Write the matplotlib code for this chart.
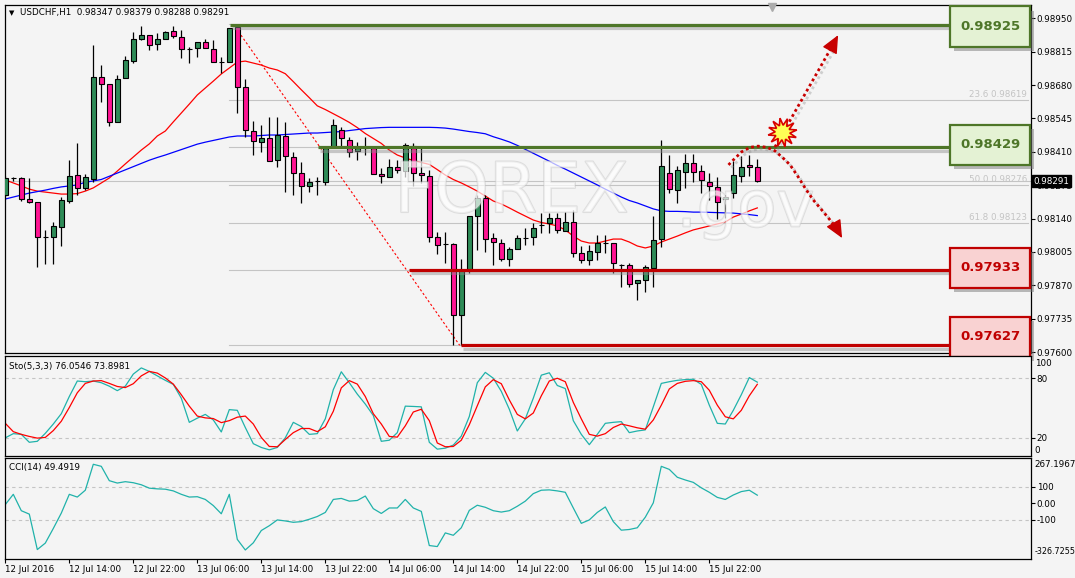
import numpy as np
import matplotlib.pyplot as plt
import matplotlib.patheffects as pe
from matplotlib.patches import Rectangle
from matplotlib.transforms import blended_transform_factory as blend

symbol = "USDCHF,H1"

# hourly bars, prices in points (1e-5)
open_pts = [98235, 98304, 98304, 98219, 98207, 98065, 98065, 98106, 98211, 98316,
            98264, 98300, 98713, 98684, 98531, 98709, 98777, 98866, 98882, 98846,
            98866, 98899, 98874, 98826, 98830, 98854, 98826, 98773, 98773, 98915,
            98672, 98494, 98450, 98466, 98377, 98474, 98389, 98324, 98272, 98292,
            98288, 98429, 98498, 98458, 98413, 98425, 98425, 98320, 98308, 98349,
            98332, 98433, 98324, 98312, 98065, 98037, 98037, 97750, 97932, 98150,
            98223, 98061, 98041, 97976, 98017, 98061, 98065, 98114, 98122, 98142,
            98090, 98126, 98001, 97972, 98005, 98041, 98041, 97952, 97952, 97879,
            97891, 97940, 98057, 98324, 98255, 98328, 98365, 98332, 98288, 98268,
            98219, 98243, 98312, 98357, 98347]
high_pts = [98312, 98308, 98308, 98304, 98207, 98094, 98126, 98227, 98377, 98446,
            98320, 98842, 98761, 98684, 98721, 98797, 98895, 98921, 98882, 98891,
            98899, 98921, 98903, 98834, 98854, 98866, 98862, 98793, 98911, 98926,
            98704, 98535, 98518, 98551, 98551, 98531, 98409, 98369, 98304, 98308,
            98425, 98543, 98510, 98470, 98450, 98470, 98425, 98344, 98381, 98377,
            98446, 98446, 98429, 98336, 98086, 98086, 98041, 97976, 98150, 98235,
            98235, 98082, 98057, 98025, 98073, 98102, 98122, 98162, 98162, 98162,
            98166, 98175, 98029, 98033, 98073, 98073, 98041, 97956, 97960, 97891,
            97952, 98150, 98458, 98397, 98353, 98401, 98401, 98357, 98324, 98308,
            98235, 98373, 98393, 98397, 98379]
low_pts = [98227, 98292, 98211, 98203, 97944, 97956, 97956, 98029, 98203, 98235,
           98255, 98288, 98611, 98514, 98531, 98709, 98769, 98862, 98822, 98822,
           98866, 98870, 98789, 98769, 98793, 98830, 98773, 98729, 98773, 98567,
           98470, 98397, 98409, 98373, 98349, 98247, 98235, 98203, 98247, 98235,
           98276, 98429, 98429, 98389, 98377, 98397, 98320, 98284, 98308, 98324,
           98308, 98272, 98284, 98045, 97997, 97960, 97629, 97627, 97920, 98013,
           98005, 97952, 97968, 97948, 98017, 98033, 98033, 98082, 98082, 98082,
           98090, 97984, 97960, 97952, 97972, 98001, 97920, 97863, 97863, 97811,
           97843, 97863, 98025, 98243, 98203, 98264, 98288, 98243, 98215, 98138,
           98142, 98223, 98288, 98312, 98288]
close_pts = [98304, 98303, 98219, 98207, 98065, 98066, 98110, 98215, 98312, 98264,
             98308, 98713, 98684, 98531, 98704, 98781, 98866, 98882, 98842, 98866,
             98895, 98878, 98826, 98825, 98854, 98830, 98773, 98772, 98911, 98672,
             98498, 98454, 98466, 98373, 98478, 98393, 98324, 98272, 98288, 98291,
             98425, 98518, 98466, 98409, 98429, 98424, 98320, 98312, 98349, 98336,
             98437, 98324, 98316, 98065, 98033, 98036, 97750, 97932, 98150, 98223,
             98057, 98045, 97976, 98017, 98061, 98060, 98102, 98113, 98142, 98094,
             98126, 98001, 97972, 98009, 98041, 98040, 97960, 97951, 97875, 97891,
             97944, 98053, 98353, 98259, 98336, 98365, 98328, 98296, 98272, 98207,
             98227, 98316, 98349, 98349, 98291]

ma_red_pts = [98296, 98284, 98272, 98259, 98251, 98247, 98243, 98239, 98239, 98241,
              98251, 98264, 98284, 98304, 98332, 98361, 98389, 98417, 98442, 98474,
              98494, 98531, 98567, 98603, 98640, 98668, 98696, 98725, 98749, 98773,
              98777, 98769, 98761, 98749, 98741, 98726, 98694, 98661, 98629, 98596,
              98581, 98564, 98547, 98529, 98508, 98484, 98464, 98444, 98417, 98397,
              98385, 98375, 98367, 98359, 98338, 98316, 98298, 98284, 98268, 98251,
              98231, 98211, 98199, 98183, 98166, 98150, 98134, 98124, 98118, 98110,
              98094, 98069, 98049, 98041, 98041, 98049, 98057, 98057, 98045, 98029,
              98021, 98029, 98045, 98057, 98069, 98082, 98094, 98102, 98110, 98118,
              98126, 98146, 98158, 98171, 98183]
ma_blue_pts = [98219, 98227, 98235, 98243, 98249, 98255, 98262, 98268, 98272, 98276,
               98287, 98292, 98298, 98311, 98324, 98337, 98350, 98363, 98376, 98387,
               98397, 98408, 98419, 98430, 98441, 98449, 98456, 98463, 98470, 98474,
               98474, 98474, 98476, 98478, 98478, 98480, 98482, 98484, 98486, 98486,
               98488, 98490, 98492, 98496, 98500, 98504, 98506, 98508, 98509, 98509,
               98509, 98509, 98509, 98509, 98508, 98506, 98502, 98497, 98492, 98488,
               98483, 98471, 98461, 98450, 98436, 98420, 98404, 98388, 98372, 98355,
               98340, 98324, 98308, 98292, 98276, 98259, 98243, 98227, 98213, 98203,
               98191, 98179, 98171, 98169, 98169, 98168, 98166, 98166, 98165, 98164,
               98163, 98162, 98159, 98156, 98152]

sto_main = [20.0, 24.2, 23.5, 15.5, 16.5, 24.5, 33.9, 44.3, 61.6, 77.2,
            76.5, 77.2, 75.5, 72.0, 67.5, 72.0, 84.2, 90.4, 86.9, 82.4,
            77.9, 73.8, 59.9, 35.6, 39.8, 43.6, 38.0, 25.9, 48.4, 47.7,
            30.4, 14.1, 10.3, 7.9, 10.3, 20.0, 35.6, 31.4, 23.5, 24.2,
            39.1, 68.5, 86.5, 75.5, 64.0, 54.0, 42.5, 16.5, 17.6, 25.2,
            51.9, 51.6, 51.2, 15.5, 8.6, 9.6, 12.7, 21.7, 41.5, 75.5,
            85.9, 80.0, 66.8, 48.8, 26.9, 39.1, 59.9, 83.1, 85.5, 72.7,
            69.6, 37.3, 23.5, 13.1, 23.5, 34.6, 35.6, 36.3, 25.2, 26.9,
            28.0, 51.2, 74.8, 76.5, 77.9, 78.6, 79.0, 73.8, 52.9, 34.6,
            33.9, 47.7, 63.4, 80.7, 76.0546]
sto_signal = [34.6, 26.2, 23.5, 21.4, 19.7, 20.4, 27.3, 36.7, 50.5, 65.4,
              74.8, 77.2, 77.6, 74.8, 71.7, 70.6, 74.5, 82.4, 86.9, 85.2,
              80.3, 74.1, 63.4, 51.9, 41.9, 40.1, 39.4, 35.3, 37.3, 40.8,
              41.9, 33.9, 20.4, 11.3, 11.0, 18.3, 25.2, 29.4, 29.4, 26.2,
              31.1, 46.7, 70.3, 77.6, 74.1, 61.6, 44.3, 33.9, 21.4, 20.7,
              32.1, 46.0, 48.8, 37.3, 14.8, 11.0, 11.3, 17.6, 33.2, 52.3,
              71.3, 78.6, 74.5, 58.2, 43.6, 39.1, 45.0, 62.3, 77.2, 80.0,
              76.5, 55.7, 39.1, 23.5, 21.7, 24.2, 30.4, 33.9, 32.1, 30.1,
              28.7, 38.0, 52.9, 69.2, 74.8, 76.9, 77.6, 76.5, 67.9, 52.9,
              41.2, 39.1, 47.7, 62.3, 73.8981]
cci_vals = [-7.2, 54.6, -44.3, -65.0, -279.0, -240.0, -151.6, -58.8, 54.6, 38.1,
            79.4, 236.0, 223.7, 137.0, 122.7, 131.0, 124.7, 112.4, 91.8, 87.6,
            85.6, 75.3, 54.6, 38.1, 40.2, 23.7, -13.4, -62.9, 54.6, -217.5,
            -281.5, -238.2, -164.0, -135.0, -100.0, -106.2, -114.4, -110.3, -95.9, -79.4,
            -54.7, 23.7, 29.9, 13.4, 17.5, 44.3, -32.0, -60.8, -27.8, -27.8,
            23.7, -27.8, -48.5, -254.7, -260.9, -178.4, -192.8, -147.4, -42.3, -11.3,
            -23.7, -44.3, -52.6, -44.3, -17.5, 13.4, 58.8, 79.4, 81.4, 75.3,
            67.0, -27.8, -120.6, -100.0, -54.7, -21.7, -110.3, -161.9, -157.8, -147.4,
            -83.5, 3.1, 223.7, 205.2, 157.7, 141.2, 126.8, 93.8, 67.0, 36.1,
            23.7, 50.5, 71.1, 79.4, 49.4919]

time_labels = ['12 Jul 2016', '12 Jul 14:00', '12 Jul 22:00', '13 Jul 06:00',
               '13 Jul 14:00', '13 Jul 22:00', '14 Jul 06:00', '14 Jul 14:00',
               '14 Jul 22:00', '15 Jul 06:00', '15 Jul 14:00', '15 Jul 22:00']
time_label_bars = [0, 8, 16, 24, 32, 40, 48, 56, 64, 72, 80, 88]

# drawn levels (resistance green, support red) and the bar where each line starts
key_levels = [0.98925, 0.98429, 0.97933, 0.97627]
key_kinds = ['res', 'res', 'sup', 'sup']
key_start = [28.1, 39.1, 50.5, 57.0]
box_centers = [0.98917, 0.98439, 0.97940, 0.97661]

fib_high, fib_low = 0.98926, 0.97627
fib_pcts = [0.0, 23.6, 38.2, 50.0, 61.8, 76.4, 100.0]
fib_labelled = [23.6, 50.0, 61.8]   # the other labels sit under the level boxes

# hand drawn scenario arrows (bar, price)
up_path = [(96.2, 0.98429), (103.3, 0.98834)]
up_tip = (104.1, 0.98882)
down_path = [(90.4, 0.98357), (91.0, 0.98377), (92.05, 0.98410), (93.1, 0.98428),
             (94.1, 0.98433), (95.2, 0.98428), (96.2, 0.98414), (97.25, 0.98384),
             (98.1, 0.98357), (99.1, 0.98309), (100.0, 0.98262), (101.0, 0.98215),
             (102.05, 0.98175), (103.1, 0.98134), (103.9, 0.98101)]
down_tip = (104.6, 0.98061)
burst = (97.05, 0.98491)

opens = np.array(open_pts) / 1e5
highs = np.array(high_pts) / 1e5
lows = np.array(low_pts) / 1e5
closes = np.array(close_pts) / 1e5
ma_red = np.array(ma_red_pts) / 1e5
ma_blue = np.array(ma_blue_pts) / 1e5
bars = np.arange(len(opens))

BG = '#F4F4F4'
FS = 6.3
W, H = 1075, 578

fig = plt.figure(figsize=(W / 100, H / 100), dpi=100)
fig.patch.set_facecolor(BG)


def panel(x0, y0, x1, y1):
    a = fig.add_axes([x0 / W, 1 - y1 / H, (x1 - x0) / W, (y1 - y0) / H])
    a.set_facecolor(BG)
    a.set_xlim(-0.1, 128.15)
    for s in a.spines.values():
        s.set_color('black')
        s.set_linewidth(0.9)
    a.yaxis.tick_right()
    a.tick_params(axis='y', labelsize=FS, length=3, width=0.8, pad=1.5)
    a.tick_params(axis='x', bottom=False, labelbottom=False)
    return a


ax = panel(4.5, 4.5, 1030.5, 353)
ax_sto = panel(4.5, 355.5, 1030.5, 456)
ax_cci = panel(4.5, 457.5, 1030.5, 558.5)

# ---------------- main price panel ----------------
ax.set_ylim(0.97596, 0.99006)
yt = np.round(0.97600 + 0.00135 * np.arange(11), 5)
ax.set_yticks(yt, [f'{v:.5f}' for v in yt])

# fibonacci retracement
fib_prices = [fib_high - p / 100 * (fib_high - fib_low) for p in fib_pcts]
for p, lv in zip(fib_pcts, fib_prices):
    ax.plot([28.0, 127.8], [lv, lv], color='#C4C4C4', lw=0.8, zorder=1)
    if p in fib_labelled:
        ax.text(127.7, lv + 0.00003, f'{p:.1f} {lv:.5f}', color='#C4C4C4', fontsize=FS,
                ha='right', va='bottom', zorder=1)
ax.plot([28.5, 56.8], [fib_high, fib_low], color='red', lw=0.8, ls=(0, (2, 2)), zorder=2)

# bid line
ax.axhline(closes[-1], color='#C4C4C4', lw=0.8, zorder=1)

# moving averages
ax.plot(bars, ma_red, color='red', lw=0.9, zorder=2)
ax.plot(bars, ma_blue, color='blue', lw=0.9, zorder=2)

# candles
up = closes >= opens
body_col = np.where(up, '#2E8B57', '#FF1493')
ax.vlines(bars, lows, highs, color='black', lw=0.9, zorder=3)
ax.bar(bars, closes - opens, bottom=opens, width=0.62, color=body_col,
       edgecolor='black', linewidth=0.8, zorder=4)

# watermark
wm_fx = [pe.withStroke(linewidth=1.4, foreground='#C2C2C2', alpha=0.45)]
ax.text(63.3, 0.98245, 'FOREX', fontsize=50, color='white', alpha=0.45, ha='center',
        va='center', zorder=5, path_effects=wm_fx)
ax.text(92.5, 0.98181, '.gov', fontsize=46, color='white', alpha=0.45, ha='center',
        va='center', zorder=5, path_effects=wm_fx)

# key levels with boxes
line_shadow = [pe.SimpleLineShadow(offset=(1.5, -2.5), shadow_color='#8C8C8C', alpha=0.45),
               pe.Normal()]
half_h = 0.00081
for lv, kind, x0, bc in zip(key_levels, key_kinds, key_start, box_centers):
    edge = '#4E7628' if kind == 'res' else '#C00000'
    face = '#E4F2D4' if kind == 'res' else '#F9D2D2'
    ax.plot([x0, 118.5], [lv, lv], color=edge, lw=2.3, zorder=6,
            solid_capstyle='butt', path_effects=line_shadow)
    box = Rectangle((118.1, bc - half_h), 10.0, 2 * half_h, facecolor=face, edgecolor=edge,
                    lw=1.6, zorder=8, clip_on=False,
                    path_effects=[pe.withSimplePatchShadow(offset=(3, -3),
                                                           shadow_rgbFace='#7A7A7A', alpha=0.5)])
    ax.add_patch(box)
    ax.text(123.1, bc, f'{lv:.5f}', ha='center', va='center', fontsize=9.5,
            fontweight='bold', color=edge, zorder=9, clip_on=False)

# scenario arrows
dot_fx = [pe.SimpleLineShadow(offset=(2, -2), shadow_color='#888888', alpha=0.35), pe.Normal()]
for path, tip in ((up_path, up_tip), (down_path, down_tip)):
    xs, ys = zip(*path)
    ax.plot(xs, ys, color='#C80000', lw=2.0, ls=(0, (1, 1.1)), zorder=7, path_effects=dot_fx)
    ax.annotate('', xy=tip, xytext=path[-1],
                arrowprops=dict(arrowstyle='-|>,head_length=1.1,head_width=0.5',
                                color='#C80000', lw=1.0, shrinkA=0, shrinkB=0), zorder=7)
ax.plot(*burst, marker=(12, 1, 10), ms=21, mfc='#FFFF55', mec='#D80000', mew=1.2, zorder=8)

# chart shift marker
ax.plot(95.8, 0.994, marker='v', ms=6, color='#ABABAB', transform=blend(ax.transData, ax.transAxes),
        clip_on=False, zorder=9)

# bid label
ax.text(1.003, closes[-1], f'{closes[-1]:.5f}', transform=blend(ax.transAxes, ax.transData),
        color='white', fontsize=FS, va='center', ha='left', zorder=10, clip_on=False,
        bbox=dict(boxstyle='square,pad=0.18', fc='black', ec='black'))

fig.text(9 / W, 1 - 13 / H, '\u25bc', fontsize=5, va='center', ha='left')
fig.text(20 / W, 1 - 13 / H,
         f'{symbol}  {opens[-1]:.5f} {highs[-1]:.5f} {lows[-1]:.5f} {closes[-1]:.5f}',
         fontsize=FS, va='center', ha='left')

# ---------------- stochastic ----------------
ax_sto.set_ylim(1.7, 102.9)
ax_sto.plot(bars, sto_main, color='#20B2AA', lw=0.9)
ax_sto.plot(bars, sto_signal, color='red', lw=0.9)
for lv in (80, 20):
    ax_sto.axhline(lv, color='#C4C4C4', lw=0.8, ls=(0, (3, 3)), zorder=0)
ax_sto.set_yticks([80, 20], ['80', '20'])
ax_sto.text(1.004, 0.919, '100', transform=ax_sto.transAxes, fontsize=FS, va='center')
ax_sto.text(1.004, 0.054, '0', transform=ax_sto.transAxes, fontsize=FS, va='center')
ax_sto.text(0.004, 0.895, f'Sto(5,3,3) {sto_main[-1]:.4f} {sto_signal[-1]:.4f}',
            transform=ax_sto.transAxes, fontsize=FS, va='center')

# ---------------- CCI ----------------
ax_cci.set_ylim(-333, 277)
ax_cci.plot(bars, cci_vals, color='#20B2AA', lw=0.9)
for lv in (100, -100):
    ax_cci.axhline(lv, color='#C4C4C4', lw=0.8, ls=(0, (3, 3)), zorder=0)
ax_cci.set_yticks([100, 0, -100], ['100', '0.00', '-100'])
ax_cci.text(1.004, 0.929, '267.1967', transform=ax_cci.transAxes, fontsize=FS, va='center')
ax_cci.text(1.004, 0.071, '-326.7255', transform=ax_cci.transAxes, fontsize=5.8, va='center')
ax_cci.text(0.004, 0.905, f'CCI(14) {cci_vals[-1]:.4f}', transform=ax_cci.transAxes,
            fontsize=FS, va='center')
ax_cci.set_xticks(time_label_bars, time_labels, ha='left')
ax_cci.tick_params(axis='x', bottom=True, labelbottom=True, labelsize=FS, length=3,
                   width=0.8, pad=2)

fig.savefig('out.png', dpi=100, facecolor=fig.get_facecolor())
